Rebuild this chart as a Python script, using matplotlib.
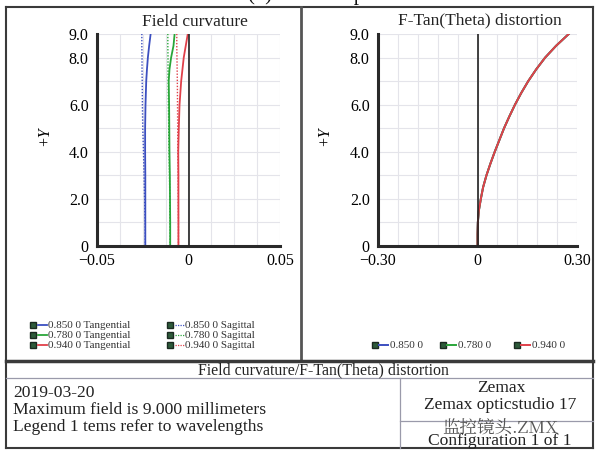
import matplotlib
matplotlib.use("Agg")
import matplotlib.pyplot as plt
from matplotlib.lines import Line2D
import numpy as np

W, H = 596, 451

# field curvature data (field height in mm vs focus shift)
fc_y = [0, 1, 2, 3, 4, 5, 6, 7, 7.5, 8, 8.5, 9]
blue_tan = [-0.0236, -0.0236, -0.0236, -0.0236, -0.0237, -0.0237, -0.0235, -0.0231, -0.0227, -0.0222, -0.0215, -0.0207]
blue_sag = [-0.0236, -0.0237, -0.0240, -0.0243, -0.0246, -0.0250, -0.0252, -0.0253, -0.0254, -0.0254, -0.0255, -0.0255]
green_tan = [-0.0100, -0.0100, -0.0101, -0.0102, -0.0104, -0.0105, -0.0106, -0.0108, -0.0104, -0.0095, -0.0082, -0.0076]
green_sag = [-0.0100, -0.0101, -0.0102, -0.0104, -0.0106, -0.0108, -0.0110, -0.0111, -0.0112, -0.0112, -0.0113, -0.0113]
red_tan = [-0.0055, -0.0055, -0.0055, -0.0055, -0.0056, -0.0053, -0.0049, -0.0040, -0.0033, -0.0026, -0.0015, -0.0004]
red_sag = [-0.0055, -0.0055, -0.0056, -0.0057, -0.0058, -0.0059, -0.0060, -0.0061, -0.0062, -0.0063, -0.0064, -0.0064]

# f-tan(theta) distortion
dist_y = [0, 0.5, 1, 1.5, 2, 2.5, 3, 3.5, 4, 4.5, 5, 5.5, 6, 6.5, 7, 7.5, 8, 8.5, 9]
dist_x = [0, 0, 0.001, 0.004, 0.010, 0.017, 0.027, 0.039, 0.052, 0.066, 0.080, 0.096,
          0.113, 0.132, 0.153, 0.177, 0.204, 0.237, 0.275]

wavelengths = ["0.850 0", "0.780 0", "0.940 0"]
wl_colors = ["#3c4fc0", "#2aa63a", "#e0404a"]

info_lines = ["2019-03-20", "Maximum field is 9.000 millimeters", "Legend 1 tems refer to wavelengths"]

plt.rcParams['font.family'] = ['Liberation Serif', 'Noto Sans CJK SC', 'DejaVu Sans']
plt.rcParams['axes.unicode_minus'] = True


def fx(px):
    return px / W


def fy(py):
    return 1 - py / H


fig = plt.figure(figsize=(W / 100, H / 100), dpi=100)
fig.patch.set_facecolor("white")


def setup_axes(ax, xlim, xstep, xticks, xlabels):
    ax.set_xlim(*xlim)
    ax.set_ylim(0, 9)
    for x in np.arange(xlim[0], xlim[1] + 1e-9, xstep):
        ax.axvline(x, color="#e4e4ea", lw=0.8, zorder=0)
    for yv in range(1, 10):
        ax.axhline(yv, color="#e4e4ea", lw=0.8, zorder=0)
    ax.set_xticks(xticks)
    ax.set_xticklabels(xlabels, fontsize=11.5)
    ax.set_yticks([0, 2, 4, 6, 8, 9])
    ax.set_yticklabels(["0", "2.0", "4.0", "6.0", "8.0", "9.0"], fontsize=11.5)
    ax.tick_params(axis="x", length=0, pad=5)
    ax.tick_params(axis="y", length=0, pad=6)
    for s in ["top", "right"]:
        ax.spines[s].set_visible(False)
    for s in ["left", "bottom"]:
        ax.spines[s].set_color("#2a2a2a")
        ax.spines[s].set_linewidth(2.2)
    ax.set_facecolor("none")
    ax.set_ylabel("+Y", fontsize=11.5, style="italic")
    ax.axvline(0, color="#222222", lw=1.2, zorder=3)


# left: field curvature
ax1 = fig.add_axes([fx(97), fy(246), fx(183), (246 - 34) / H])
setup_axes(ax1, (-0.05, 0.05), 0.0125, [-0.05, 0, 0.05], ["\u22120.05", "0", "0.05"])
ax1.plot(blue_sag, fc_y, color=wl_colors[0], lw=1.0, ls=(0, (1, 1.2)))
ax1.plot(blue_tan, fc_y, color=wl_colors[0], lw=1.3)
ax1.plot(green_sag, fc_y, color=wl_colors[1], lw=1.0, ls=(0, (1, 1.2)))
ax1.plot(green_tan, fc_y, color=wl_colors[1], lw=1.3)
ax1.plot(red_sag, fc_y, color=wl_colors[2], lw=1.0, ls=(0, (1, 1.2)))
ax1.plot(red_tan, fc_y, color=wl_colors[2], lw=1.3)
ax1.yaxis.set_label_coords(-0.245, 0.52)

# right: distortion
ax2 = fig.add_axes([fx(378), fy(246), fx(199), (246 - 34) / H])
setup_axes(ax2, (-0.30, 0.30), 0.06, [-0.30, 0, 0.30], ["\u22120.30", "0", "0.30"])
ax2.plot(dist_x, dist_y, color=wl_colors[0], lw=1.4)
ax2.plot(dist_x, dist_y, color=wl_colors[1], lw=1.4)
ax2.plot(dist_x, dist_y, color=wl_colors[2], lw=1.4)
ax2.yaxis.set_label_coords(-0.23, 0.52)

# titles
fig.text(fx(195), fy(22), "Field curvature", ha="center", va="center", fontsize=12.5, color="#222222")
fig.text(fx(480), fy(20), "F-Tan(Theta) distortion", ha="center", va="center", fontsize=12.5, color="#222222")
fig.text(fx(306), fy(5), "(b) Point-map", ha="center", va="bottom", fontsize=15, color="#111111")


def hline(y, x0, x1, lw, c):
    fig.add_artist(Line2D([fx(x0), fx(x1)], [fy(y), fy(y)], lw=lw, color=c))


def vline(x, y0, y1, lw, c):
    fig.add_artist(Line2D([fx(x), fx(x)], [fy(y0), fy(y1)], lw=lw, color=c))


frame = "#3a3a3a"
thin = "#9a9aaa"
hline(7, 6, 593, 1.5, frame)
hline(448, 6, 593, 1.5, frame)
vline(6, 7, 448, 1.5, frame)
vline(593, 7, 448, 1.5, frame)
vline(301, 7, 361, 2.0, "#555555")
hline(361, 6, 593, 2.5, frame)
hline(378, 6, 593, 0.9, thin)
vline(400, 378, 448, 0.9, thin)
hline(421, 400, 593, 0.9, thin)

# legends
styles = ["-", (0, (1, 1))]
names = ["Tangential", "Sagittal"]
col_x = [33, 170]
row_y = [325, 335, 345]
for j in range(2):
    for i in range(3):
        x0, y0 = col_x[j], row_y[i]
        fig.add_artist(Line2D([fx(x0)], [fy(y0)], marker="s", ms=4.5, color="#2d5a3a",
                              markeredgecolor="#1a2a20", lw=0))
        fig.add_artist(Line2D([fx(x0 + 5), fx(x0 + 14)], [fy(y0), fy(y0)], color=wl_colors[i],
                              lw=1.3 if j == 0 else 0.9, ls=styles[j]))
        fig.text(fx(x0 + 15), fy(y0), wavelengths[i] + " " + names[j], fontsize=8,
                 va="center", ha="left", color="#333333")

for i, xs in enumerate([375, 443, 517]):
    fig.add_artist(Line2D([fx(xs)], [fy(345)], marker="s", ms=4.5, color="#2d5a3a",
                          markeredgecolor="#1a2a20", lw=0))
    fig.add_artist(Line2D([fx(xs + 4), fx(xs + 13)], [fy(345), fy(345)], color=wl_colors[i], lw=1.4))
    fig.text(fx(xs + 15), fy(345), wavelengths[i], fontsize=8, va="center", ha="left", color="#333333")

# info block
fig.text(fx(323), fy(370), "Field curvature/F-Tan(Theta) distortion", ha="center", va="center",
         fontsize=11.4, color="#222222")
for k, line in enumerate(info_lines):
    fig.text(fx(13), fy(393 + 17 * k), line, ha="left", va="center", fontsize=12.6, color="#222222")
fig.text(fx(501), fy(388), "Zemax", ha="center", va="center", fontsize=12.6, color="#222222")
fig.text(fx(500), fy(405), "Zemax opticstudio 17", ha="center", va="center", fontsize=12.6, color="#222222")
fig.text(fx(500), fy(428), "监控镜头.ZMX", ha="center", va="center", fontsize=12.6, color="#555555",
         family=['Noto Serif CJK SC', 'Noto Sans CJK SC', 'Liberation Serif'])
fig.text(fx(500), fy(441), "Configuration 1 of 1", ha="center", va="center", fontsize=12.6, color="#222222")

fig.savefig("out.png", dpi=100, facecolor="white")
